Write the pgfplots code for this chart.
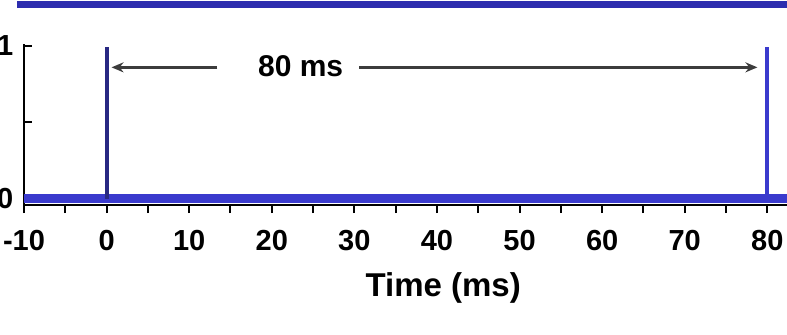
\documentclass[border=0pt]{standalone}
\usepackage{fontspec}
\setmainfont{Liberation Sans}
\usepackage{pgfplots}
\pgfplotsset{compat=1.18}
\usetikzlibrary{arrows.meta}
\definecolor{trace}{RGB}{58,58,205}
\definecolor{spikedark}{RGB}{40,40,130}
\definecolor{topline}{RGB}{45,45,175}
\definecolor{arr}{RGB}{60,60,60}
\begin{document}
\begin{tikzpicture}
\path[use as bounding box, clip] (0,0) rectangle (393.5pt,167pt);
\begin{axis}[
  at={(12pt,64.5pt)}, anchor=south west,
  scale only axis, width=388.2pt, height=80.3pt,
  xmin=-10, xmax=84, ymin=-0.04, ymax=1.01,
  axis x line*=bottom, axis y line*=left,
  axis line style={black, line width=1.2pt, -},
  xtick={-10,0,...,80}, minor xtick={-5,5,...,75},
  ytick={0,0.5,1}, yticklabels={0,,1},
  xtick align=outside, ytick align=inside,
  major tick length=4pt, minor tick length=4pt,
  tick style={black, line width=1pt},
  /pgf/number format/assume math mode=true,
  tick label style={font=\bfseries\fontsize{14.5}{15}\selectfont},
  xticklabel style={yshift=-5pt},
  yticklabel style={xshift=-1.8pt},
  xlabel={Time (ms)},
  xlabel style={font=\bfseries\fontsize{16.5}{18}\selectfont, at={(ticklabel cs:0.54)}, anchor=north, yshift=-4pt},
  clip=false,
]
\addplot[trace, line width=4.5pt] coordinates {(-10,0) (84,0)};
\addplot[spikedark, line width=2pt] coordinates {(0,0) (0,0.99)};
\addplot[trace, line width=2pt] coordinates {(80,0) (80,0.99)};
\addplot[topline, line width=3.5pt] coordinates {(-10.8,1.268) (86,1.268)};
\draw[arr, line width=1.3pt, -{Stealth[length=6pt,width=5pt]}] (axis cs:13.4,0.86) -- (axis cs:0.6,0.86);
\draw[arr, line width=1.3pt, -{Stealth[length=6pt,width=5pt]}] (axis cs:30.6,0.86) -- (axis cs:78.8,0.86);
\node[font=\bfseries\fontsize{15}{16}\selectfont] at (axis cs:23.5,0.87) {80 ms};
\end{axis}
\end{tikzpicture}
\end{document}
